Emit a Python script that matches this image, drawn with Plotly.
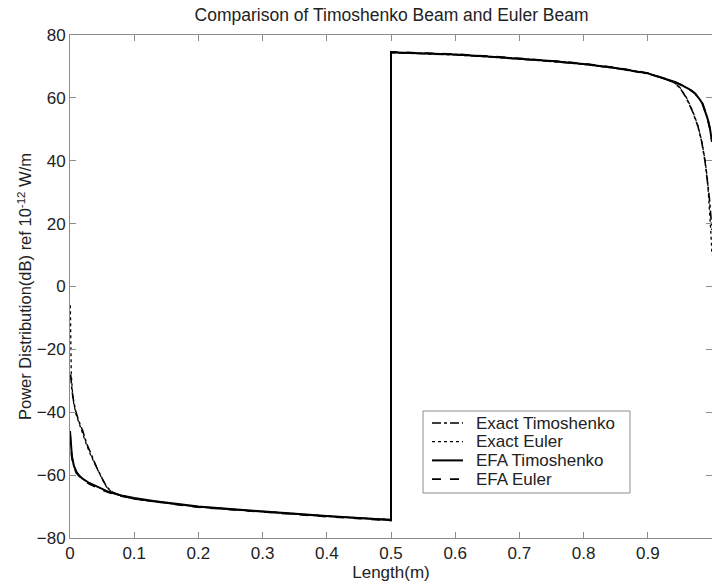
import plotly.graph_objects as go

# ---------------- data ----------------
names = ["Exact Timoshenko", "Exact Euler", "EFA Timoshenko", "EFA Euler"]

x_exact_timo = [0.001, 0.003, 0.006, 0.01, 0.015, 0.02, 0.026, 0.033, 0.041, 0.05, 0.057,
                0.065, 0.075, 0.088, 0.1, 0.13, 0.16, 0.2, 0.25, 0.3, 0.35, 0.4, 0.45, 0.5,
                0.5, 0.55, 0.6, 0.65, 0.7, 0.75, 0.8, 0.85, 0.9, 0.92, 0.94, 0.95, 0.96,
                0.97, 0.978, 0.984, 0.989, 0.993, 0.996, 1.0]
y_exact_timo = [-28, -33, -37, -40.5, -43.5, -46, -50, -53.5, -57.3, -61, -63.7,
                -65.3, -66.2, -66.9, -67.6, -68.4, -69.1, -70.1, -70.9, -71.7, -72.4, -73.1, -73.7, -74.2,
                74.4, 74.1, 73.7, 73.1, 72.4, 71.6, 70.7, 69.4, 67.7, 66.5, 65.0, 63.2, 60.0,
                55.5, 51.0, 46.0, 40.0, 34.0, 28.0, 18.0]

x_exact_euler = [0.0005, 0.001, 0.002, 0.004, 0.006, 0.01, 0.015, 0.02, 0.026, 0.033, 0.041,
                 0.05, 0.057, 0.065, 0.075, 0.088, 0.1, 0.13, 0.16, 0.2, 0.25, 0.3, 0.35, 0.4,
                 0.45, 0.5, 0.5, 0.55, 0.6, 0.65, 0.7, 0.75, 0.8, 0.85, 0.9, 0.92, 0.94, 0.95,
                 0.96, 0.97, 0.978, 0.984, 0.989, 0.993, 0.996, 0.998, 1.0]
y_exact_euler = [-6, -18, -28, -34, -37.5, -41, -44, -46.5, -50.5, -54, -57.5,
                 -61.2, -63.8, -65.4, -66.3, -67.0, -67.5, -68.3, -69.0, -70.0, -70.8, -71.6, -72.3, -73.0,
                 -73.6, -74.1, 74.5, 74.2, 73.8, 73.2, 72.5, 71.7, 70.8, 69.5, 67.9, 66.6, 65.1, 63.3,
                 60.2, 55.8, 51.2, 46.3, 40.3, 34.0, 26.0, 18.0, 10.0]

x_efa_timo = [0.0, 0.001, 0.003, 0.006, 0.01, 0.015, 0.02, 0.03, 0.04, 0.05, 0.06, 0.08,
              0.1, 0.13, 0.16, 0.2, 0.25, 0.3, 0.35, 0.4, 0.45, 0.5,
              0.5, 0.55, 0.6, 0.65, 0.7, 0.75, 0.8, 0.85, 0.9, 0.92, 0.94, 0.955, 0.965,
              0.973, 0.98, 0.985, 0.989, 0.993, 0.997, 1.0]
y_efa_timo = [-46, -50, -54, -57, -59, -60.3, -61.2, -62.5, -63.5, -64.5, -65.3, -66.5,
              -67.3, -68.2, -69.0, -70.0, -70.8, -71.6, -72.3, -73.0, -73.6, -74.3,
              74.5, 74.2, 73.8, 73.2, 72.5, 71.7, 70.8, 69.5, 67.8, 66.6, 65.2, 63.8, 62.7,
              61.5, 59.8, 58.2, 56.0, 53.5, 50.0, 46.0]

x_efa_euler = [0.0, 0.001, 0.003, 0.006, 0.01, 0.015, 0.02, 0.03, 0.04, 0.05, 0.06, 0.08,
               0.1, 0.13, 0.16, 0.2, 0.25, 0.3, 0.35, 0.4, 0.45, 0.5,
               0.5, 0.55, 0.6, 0.65, 0.7, 0.75, 0.8, 0.85, 0.9, 0.92, 0.94, 0.955, 0.965,
               0.973, 0.98, 0.985, 0.989, 0.993, 0.997, 1.0]
y_efa_euler = [-47, -51, -54.5, -57.4, -59.3, -60.5, -61.5, -62.8, -63.8, -64.7, -65.5, -66.7,
               -67.5, -68.4, -69.2, -70.2, -71.0, -71.8, -72.5, -73.2, -73.8, -74.4,
               74.6, 74.3, 73.9, 73.3, 72.6, 71.8, 70.9, 69.6, 67.9, 66.7, 65.3, 63.9, 62.8,
               61.6, 59.9, 58.3, 56.1, 53.6, 50.1, 46.2]

x_ticks = [0, 0.1, 0.2, 0.3, 0.4, 0.5, 0.6, 0.7, 0.8, 0.9, 1]
x_tick_text = ["0", "0.1", "0.2", "0.3", "0.4", "0.5", "0.6", "0.7", "0.8", "0.9", "1"]
y_ticks = [-80, -60, -40, -20, 0, 20, 40, 60, 80]

# ---------------- figure ----------------
FONT = "Liberation Sans, Arial, Helvetica, sans-serif"
W, H = 712, 586
ML, MR, MT, MB = 70, 0, 35, 48
PW, PH = W - ML - MR, H - MT - MB

series = [
    (x_exact_timo, y_exact_timo, "dashdot", 1.6),
    (x_exact_euler, y_exact_euler, "dot", 1.3),
    (x_efa_timo, y_efa_timo, "solid", 2.0),
    (x_efa_euler, y_efa_euler, "dash", 1.8),
]

fig = go.Figure()
for name, (xs, ys, dash, w) in zip(names, series):
    fig.add_trace(go.Scatter(x=xs, y=ys, mode="lines", name=name, showlegend=False,
                             line=dict(color="black", width=w, dash=dash)))

axis_common = dict(showline=True, linecolor="#8c8c8c", linewidth=1, mirror="ticks",
                   ticks="inside", ticklen=6, tickcolor="#8c8c8c", tickwidth=1,
                   showgrid=False, zeroline=False,
                   tickfont=dict(family=FONT, size=17, color="#222"))

# ---- MATLAB-style legend box (compact rows), built from the series list ----
def px_x(px):
    return (px - ML) / PW

def px_y(py):
    return (H - MB - py) / PH

LEG_L, LEG_T, LEG_R, LEG_B = 423, 411, 630, 493
ROW0, ROW_STEP = 423, 18.7
SAMPLE_X0, SAMPLE_X1, TEXT_X = 432, 463, 474

shapes = [dict(type="rect", xref="paper", yref="paper",
               x0=px_x(LEG_L), x1=px_x(LEG_R), y0=px_y(LEG_B), y1=px_y(LEG_T),
               line=dict(color="#8c8c8c", width=1), fillcolor="white", layer="above")]
annotations = []
for i, (name, (_, _, dash, w)) in enumerate(zip(names, series)):
    yy = px_y(ROW0 + i * ROW_STEP)
    shapes.append(dict(type="line", xref="paper", yref="paper",
                       x0=px_x(SAMPLE_X0), x1=px_x(SAMPLE_X1), y0=yy, y1=yy,
                       line=dict(color="black", width=w, dash=dash), layer="above"))
    annotations.append(dict(text=name, xref="paper", yref="paper",
                            x=px_x(TEXT_X), y=yy, xanchor="left", yanchor="middle",
                            showarrow=False,
                            font=dict(family=FONT, size=17, color="#222")))

fig.update_layout(
    width=W, height=H,
    margin=dict(l=ML, r=MR, t=MT, b=MB),
    paper_bgcolor="white", plot_bgcolor="white",
    font=dict(family=FONT, size=17, color="#222"),
    title=dict(text="Comparison of Timoshenko Beam and Euler Beam",
               x=0.55, xanchor="center",
               y=1 - 15 / H, yanchor="middle", yref="container",
               font=dict(family=FONT, size=17.5, color="#222")),
    xaxis=dict(range=[0, 1], tickvals=x_ticks, ticktext=x_tick_text,
               title=dict(text="Length(m)", standoff=1,
                          font=dict(family=FONT, size=17, color="#222")),
               **axis_common),
    yaxis=dict(range=[-80, 80], tickvals=y_ticks,
               title=dict(text="Power Distribution(dB) ref 10<sup>-12</sup> W/m", standoff=0,
                          font=dict(family=FONT, size=16.5, color="#222")),
               **axis_common),
    showlegend=False,
    shapes=shapes,
    annotations=annotations,
)

fig.write_html("out.html")
